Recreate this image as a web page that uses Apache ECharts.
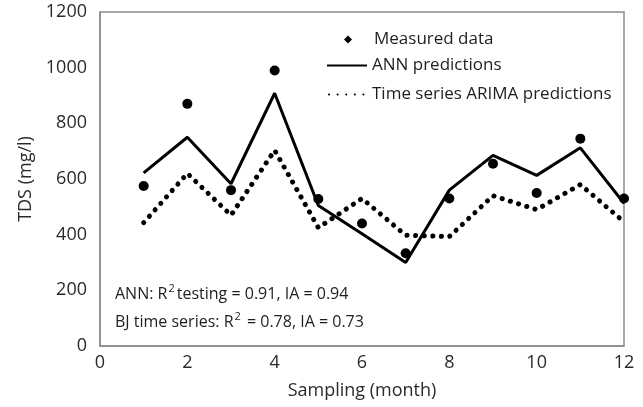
<!DOCTYPE html>
<html>
<head>
<meta charset="utf-8">
<script src="https://cdn.jsdelivr.net/npm/echarts@6/dist/echarts.min.js"></script>
<style>
  html, body { margin: 0; padding: 0; background: #fff; }
  #main { width: 643px; height: 407px; }
</style>
</head>
<body>
<div id="main"></div>
<script>
// TDS: measured vs ANN vs ARIMA
const months = [1, 2, 3, 4, 5, 6, 7, 8, 9, 10, 11, 12]
const measured = [575, 870, 560, 990, 528, 440, 333, 530, 655, 550, 745, 530]
const annPred = [622, 750, 583, 908, 505, 403, 300, 560, 685, 613, 712, 513]
const arimaPred = [443, 620, 470, 703, 425, 530, 398, 393, 540, 490, 580, 446]

const font = '"Open Sans", Lato, sans-serif'
const txt = '#2a2a2a'
const axisGray = '#8c8c8c'

const pairs = vals => months.map((m, i) => [m, vals[i]])

const legendText = { fontFamily: font, fontSize: 17, color: '#1e1e1e' }
const hidden = { color: 'rgba(0,0,0,0)', borderWidth: 0 }
const sup = { fontSize: 11, fontFamily: font, color: '#1e1e1e', padding: [0, 2, 12, 1] }

const chart = echarts.init(document.getElementById('main'))
chart.setOption({
  animation: false,
  textStyle: { fontFamily: font, color: txt },
  grid: {
    left: 100, right: 19, top: 12, bottom: 61,
    show: true, borderColor: axisGray, borderWidth: 1.5
  },
  legend: [
    {
      left: 339, top: 26,
      itemWidth: 8, itemHeight: 8,
      textStyle: Object.assign({ padding: [0, 0, 0, 17] }, legendText),
      data: [{ name: 'Measured data', icon: 'diamond', itemStyle: { color: '#000' } }]
    },
    {
      left: 321, top: 52,
      itemWidth: 40, itemHeight: 4,
      textStyle: legendText,
      data: [{ name: 'ANN predictions', itemStyle: hidden }]
    },
    {
      left: 323, top: 81,
      itemWidth: 38, itemHeight: 4,
      textStyle: legendText,
      data: [{ name: 'Time series ARIMA predictions', itemStyle: hidden }]
    }
  ],
  xAxis: {
    type: 'value', min: 0, max: 12, interval: 2,
    name: 'Sampling (month)', nameLocation: 'middle', nameGap: 36,
    nameTextStyle: { fontSize: 18, color: txt },
    axisLine: { show: true, lineStyle: { color: axisGray, width: 1.5 } },
    axisTick: { show: false },
    splitLine: { show: false },
    axisLabel: { fontSize: 18, color: txt, margin: 8 }
  },
  yAxis: {
    type: 'value', min: 0, max: 1200, interval: 200,
    name: 'TDS (mg/l)', nameLocation: 'middle', nameGap: 61,
    nameTextStyle: { fontSize: 18, color: txt },
    axisLine: { show: true, lineStyle: { color: axisGray, width: 1.5 } },
    axisTick: { show: false },
    splitLine: { show: false },
    axisLabel: { fontSize: 18, color: txt, margin: 13, formatter: v => String(v) }
  },
  graphic: [
    {
      type: 'text', left: 115, top: 283,
      style: {
        text: 'ANN: R{s|2}testing = 0.91, IA = 0.94',
        font: '16px ' + font, fill: '#1e1e1e', rich: { s: sup }
      }
    },
    {
      type: 'text', left: 115, top: 311,
      style: {
        text: 'BJ time series: R{s|2} = 0.78, IA = 0.73',
        font: '16px ' + font, fill: '#1e1e1e', rich: { s: sup }
      }
    }
  ],
  series: [
    {
      name: 'ANN predictions', type: 'line',
      data: pairs(annPred),
      symbol: 'none',
      lineStyle: { color: '#000', width: 3 },
      itemStyle: { color: '#000' },
      z: 3
    },
    {
      name: 'Time series ARIMA predictions', type: 'line',
      data: pairs(arimaPred),
      symbol: 'none',
      lineStyle: { color: '#000', width: 5, type: [0.1, 8.5], cap: 'round' },
      itemStyle: { color: '#000' },
      z: 2
    },
    {
      name: 'Measured data', type: 'scatter',
      data: pairs(measured),
      symbol: 'circle', symbolSize: 10,
      itemStyle: { color: '#000', opacity: 1 },
      z: 4
    }
  ]
})
</script>
</body>
</html>
